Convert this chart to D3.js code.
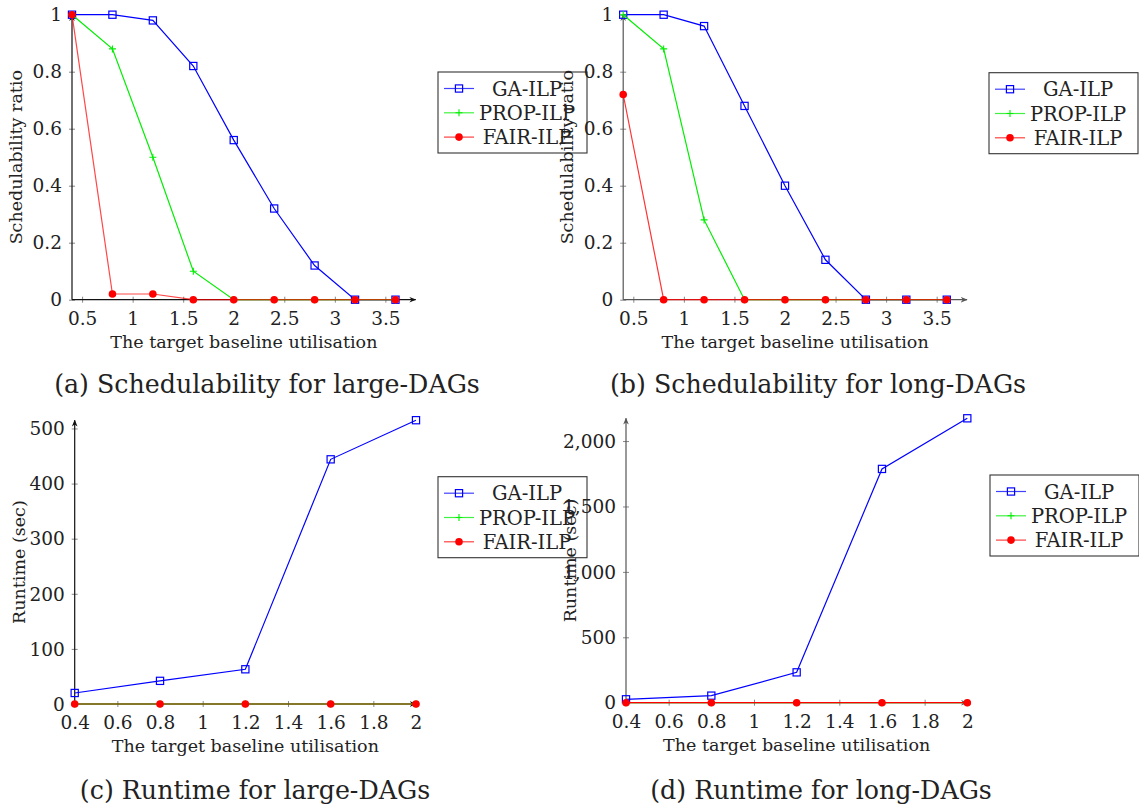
<!DOCTYPE html>
<html>
<head>
<meta charset="utf-8">
<script src="https://cdn.jsdelivr.net/npm/d3@7"></script>
<style>
  html, body { margin: 0; padding: 0; background: #fff; }
  svg { display: block; }
  text { font-family: "DejaVu Serif", "Liberation Serif", "Noto Serif", serif; fill: #222; }
</style>
</head>
<body>
<svg id="chart" width="1139" height="812"></svg>
<script>
// ---------------- data ----------------
const seriesNames = ["GA-ILP", "PROP-ILP", "FAIR-ILP"];

const utilSched = [0.4, 0.8, 1.2, 1.6, 2.0, 2.4, 2.8, 3.2, 3.6];
const gaLarge   = [1, 1, 0.98, 0.82, 0.56, 0.32, 0.12, 0, 0];
const propLarge = [1, 0.88, 0.5, 0.1, 0, 0, 0, 0, 0];
const fairLarge = [1, 0.02, 0.02, 0, 0, 0, 0, 0, 0];

const gaLong    = [1, 1, 0.96, 0.68, 0.4, 0.14, 0, 0, 0];
const propLong  = [1, 0.88, 0.28, 0, 0, 0, 0, 0, 0];
const fairLong  = [0.72, 0, 0, 0, 0, 0, 0, 0, 0];

const utilRun       = [0.4, 0.8, 1.2, 1.6, 2.0];
const gaRunLarge    = [20, 42, 63, 444, 515];
const propRunLarge  = [0, 0, 0, 0, 0];
const fairRunLarge  = [0, 0, 0, 0, 0];
const gaRunLong     = [26, 54, 232, 1787, 2174];
const propRunLong   = [0, 0, 0, 0, 0];
const fairRunLong   = [0, 0, 0, 0, 0];

const schedTicksX = [0.5, 1, 1.5, 2, 2.5, 3, 3.5];
const schedTicksY = [0, 0.2, 0.4, 0.6, 0.8, 1];
const runTicksX   = [0.4, 0.6, 0.8, 1, 1.2, 1.4, 1.6, 1.8, 2];
const runTicksYLarge = [0, 100, 200, 300, 400, 500];
const runTicksYLong  = [0, 500, 1000, 1500, 2000];

const xTitle = "The target baseline utilisation";
const captions = [
  "(a) Schedulability for large-DAGs",
  "(b) Schedulability for long-DAGs",
  "(c) Runtime for large-DAGs",
  "(d) Runtime for long-DAGs"
];

// ---------------- layout ----------------
const colors = { "GA-ILP": "#0000ff", "PROP-ILP": "#00ee00", "FAIR-ILP": "#ff0000" };

const panels = [
  { x: utilSched, series: [gaLarge, propLarge, fairLarge], xDom: [0.4, 3.8], yDom: [0, 1],
    xr: [72, 415.7], yr: [299.7, 14.7], xt: schedTicksX, yt: schedTicksY, yfmt: d => String(d),
    xfmt: d => String(d), ytitle: "Schedulability ratio", cap: captions[0], capX: 267, capY: 393,
    leg: [438, 72], axisColor: "#111", redOpacity: 0.72 },
  { x: utilSched, series: [gaLong, propLong, fairLong], xDom: [0.4, 3.8], yDom: [0, 1],
    xr: [623.2, 967], yr: [299.7, 14.7], xt: schedTicksX, yt: schedTicksY, yfmt: d => String(d),
    xfmt: d => String(d), ytitle: "Schedulability ratio", cap: captions[1], capX: 818, capY: 393,
    leg: [989, 72.7], axisColor: "#555", redOpacity: 0.8 },
  { x: utilRun, series: [gaRunLarge, propRunLarge, fairRunLarge], xDom: [0.4, 2], yDom: [0, d3.max(gaRunLarge)],
    xr: [74.7, 416], yr: [704, 420.2], xt: runTicksX, yt: runTicksYLarge, yfmt: d => String(d),
    xfmt: d => String(d), ytitle: "Runtime (sec)", cap: captions[2], capX: 255, capY: 799,
    leg: [438, 476.7], axisColor: "#111", redOpacity: 0.7 },
  { x: utilRun, series: [gaRunLong, propRunLong, fairRunLong], xDom: [0.4, 2], yDom: [0, d3.max(gaRunLong)],
    xr: [626, 967.3], yr: [702.7, 418.3], xt: runTicksX, yt: runTicksYLong, yfmt: d3.format(","),
    xfmt: d => String(d), ytitle: "Runtime (sec)", cap: captions[3], capX: 821, capY: 799,
    leg: [990, 475], axisColor: "#555", redOpacity: 1 }
];

const svg = d3.select("#chart");
const defs = svg.append("defs");
["#111", "#555"].forEach((c, i) => {
  defs.append("marker").attr("id", "arrow" + i)
    .attr("viewBox", "0 0 10 10").attr("refX", 9).attr("refY", 5)
    .attr("markerWidth", 7).attr("markerHeight", 7).attr("markerUnits", "userSpaceOnUse")
    .attr("orient", "auto")
    .append("path").attr("d", "M0,1 L10,5 L0,9 L3,5 Z").attr("fill", c);
});

function drawMarker(g, name, cx, cy) {
  const c = colors[name];
  if (name === "GA-ILP") {
    g.append("rect").attr("x", cx - 3.6).attr("y", cy - 3.6).attr("width", 7.2).attr("height", 7.2)
      .attr("fill", "none").attr("stroke", c).attr("stroke-width", 1.2);
  } else if (name === "PROP-ILP") {
    g.append("path").attr("d", `M${cx - 3.5},${cy}H${cx + 3.5}M${cx},${cy - 3.5}V${cy + 3.5}`)
      .attr("stroke", c).attr("stroke-width", 1.1).attr("fill", "none");
  } else {
    g.append("circle").attr("cx", cx).attr("cy", cy).attr("r", 3.8).attr("fill", c);
  }
}

const FONT = '"DejaVu Serif", "Liberation Serif", "Noto Serif", serif';

panels.forEach((p, pi) => {
  const g = svg.append("g");
  const x = d3.scaleLinear().domain(p.xDom).range(p.xr);
  const y = d3.scaleLinear().domain(p.yDom).range(p.yr);
  const y0 = p.yr[0], x0 = p.xr[0];
  const arrowId = p.axisColor === "#111" ? "arrow0" : "arrow1";

  // x axis
  const xa = g.append("g").attr("transform", `translate(0,${y0})`)
    .call(d3.axisBottom(x).tickValues(p.xt).tickFormat(p.xfmt).tickSize(3).tickPadding(0));
  xa.attr("font-family", null).attr("font-size", null);
  xa.select(".domain").remove();
  xa.selectAll(".tick line").attr("y1", -3).attr("y2", 3).attr("stroke", "#888").attr("stroke-width", 1);
  xa.selectAll(".tick text").attr("y", 25).attr("dy", null)
    .style("font-size", "18.5px").style("font-family", FONT).attr("fill", "#222");

  // y axis
  const ya = g.append("g").attr("transform", `translate(${x0},0)`)
    .call(d3.axisLeft(y).tickValues(p.yt).tickFormat(p.yfmt).tickSize(3).tickPadding(0));
  ya.attr("font-family", null).attr("font-size", null);
  ya.select(".domain").remove();
  ya.selectAll(".tick line").attr("x1", -3).attr("x2", 3).attr("stroke", "#888").attr("stroke-width", 1);
  ya.selectAll(".tick text").attr("x", -10).attr("dy", "0.34em")
    .style("font-size", "18.5px").style("font-family", FONT).attr("fill", "#222");

  // axis lines with arrows
  g.append("line").attr("x1", x0).attr("x2", p.xr[1]).attr("y1", y0).attr("y2", y0)
    .attr("stroke", p.axisColor).attr("stroke-width", 1.2).attr("marker-end", `url(#${arrowId})`);
  g.append("line").attr("x1", x0).attr("x2", x0).attr("y1", y0).attr("y2", p.yr[1])
    .attr("stroke", p.axisColor).attr("stroke-width", 1.2).attr("marker-end", `url(#${arrowId})`);

  // titles
  g.append("text").attr("x", (p.xr[0] + p.xr[1]) / 2).attr("y", y0 + 48)
    .attr("text-anchor", "middle").style("font-size", "17.5px").text(xTitle);
  g.append("text").attr("transform", `translate(${x0 - 50},${(p.yr[0] + p.yr[1]) / 2}) rotate(-90)`)
    .attr("text-anchor", "middle").style("font-size", "17.5px").text(p.ytitle);

  // series
  const line = d3.line().x(d => x(d[0])).y(d => y(d[1]));
  p.series.forEach((vals, si) => {
    const name = seriesNames[si];
    const pts = p.x.map((xv, i) => [xv, vals[i]]);
    g.append("path").datum(pts).attr("d", line).attr("fill", "none")
      .attr("stroke", colors[name]).attr("stroke-width", 1.2)
      .attr("stroke-opacity", name === "FAIR-ILP" ? p.redOpacity : 1);
    const mg = g.append("g");
    pts.forEach(d => drawMarker(mg, name, x(d[0]), y(d[1])));
  });

  // caption
  g.append("text").attr("x", p.capX).attr("y", p.capY).attr("text-anchor", "middle")
    .style("font-size", "25.3px").text(p.cap);

  // legend
  const [lx, ly] = p.leg;
  const lg = g.append("g");
  lg.append("rect").attr("x", lx).attr("y", ly).attr("width", 149).attr("height", 81)
    .attr("fill", "#fff").attr("stroke", "#333").attr("stroke-width", 1.1);
  seriesNames.forEach((name, i) => {
    const cy = ly + 16.5 + i * 24.3;
    lg.append("line").attr("x1", lx + 6).attr("x2", lx + 36).attr("y1", cy).attr("y2", cy)
      .attr("stroke", colors[name]).attr("stroke-width", 1.2).attr("stroke-opacity", 0.75);
    drawMarker(lg, name, lx + 21, cy);
    lg.append("text").attr("x", lx + 89).attr("y", cy).attr("dy", "0.36em")
      .attr("text-anchor", "middle").style("font-size", "19.5px").text(name);
  });
});
</script>
</body>
</html>
